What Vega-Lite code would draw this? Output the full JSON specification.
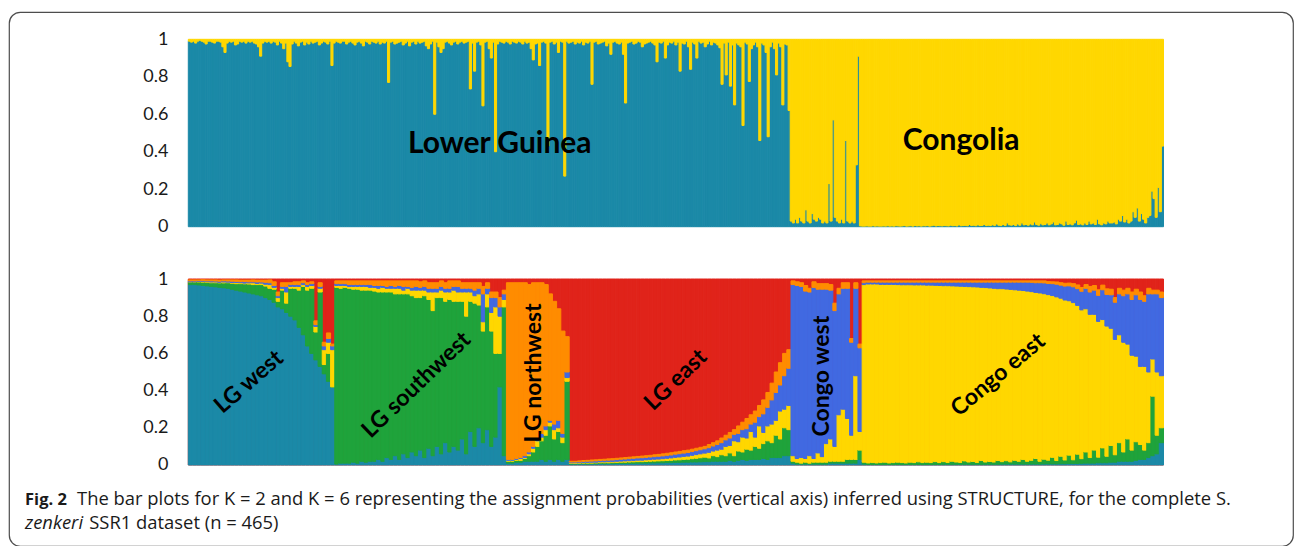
{
"$schema": "https://vega.github.io/schema/vega-lite/v6.json",
"width": 1284,
"height": 534,
"autosize": "none",
"padding": {"left": 9, "top": 12, "right": 3, "bottom": 0},
"background": "white",
"config": {"view": {"stroke": "#4d4d4d", "strokeWidth": 1.2, "cornerRadius": 11}},
"datasets": {
"k2": [
{"i":1,"b":0.99},{"i":2,"b":0.985},{"i":3,"b":0.99},{"i":4,"b":0.98},{"i":5,"b":0.99},{"i":6,"b":0.995},{"i":7,"b":0.99},{"i":8,"b":0.985},{"i":9,"b":0.975},{"i":10,"b":0.99},
{"i":11,"b":0.99},{"i":12,"b":0.985},{"i":13,"b":0.98},{"i":14,"b":0.99},{"i":15,"b":0.99},{"i":16,"b":0.985},{"i":17,"b":0.96},{"i":18,"b":0.93},{"i":19,"b":0.98},{"i":20,"b":0.99},
{"i":21,"b":0.985},{"i":22,"b":0.99},{"i":23,"b":0.97},{"i":24,"b":0.975},{"i":25,"b":0.99},{"i":26,"b":0.985},{"i":27,"b":0.99},{"i":28,"b":0.98},{"i":29,"b":0.99},{"i":30,"b":0.985},
{"i":31,"b":0.99},{"i":32,"b":0.98},{"i":33,"b":0.975},{"i":34,"b":0.96},{"i":35,"b":0.91},{"i":36,"b":0.98},{"i":37,"b":0.99},{"i":38,"b":0.985},{"i":39,"b":0.99},{"i":40,"b":0.98},
{"i":41,"b":0.99},{"i":42,"b":0.985},{"i":43,"b":0.97},{"i":44,"b":0.99},{"i":45,"b":0.98},{"i":46,"b":0.95},{"i":47,"b":0.98},{"i":48,"b":0.88},{"i":49,"b":0.855},{"i":50,"b":0.975},
{"i":51,"b":0.99},{"i":52,"b":0.98},{"i":53,"b":0.965},{"i":54,"b":0.985},{"i":55,"b":0.99},{"i":56,"b":0.97},{"i":57,"b":0.985},{"i":58,"b":0.975},{"i":59,"b":0.99},{"i":60,"b":0.98},
{"i":61,"b":0.985},{"i":62,"b":0.99},{"i":63,"b":0.97},{"i":64,"b":0.98},{"i":65,"b":0.99},{"i":66,"b":0.985},{"i":67,"b":0.975},{"i":68,"b":0.99},{"i":69,"b":0.86},{"i":70,"b":0.98},
{"i":71,"b":0.99},{"i":72,"b":0.985},{"i":73,"b":0.98},{"i":74,"b":0.99},{"i":75,"b":0.99},{"i":76,"b":0.975},{"i":77,"b":0.985},{"i":78,"b":0.99},{"i":79,"b":0.98},{"i":80,"b":0.97},
{"i":81,"b":0.985},{"i":82,"b":0.99},{"i":83,"b":0.98},{"i":84,"b":0.965},{"i":85,"b":0.99},{"i":86,"b":0.985},{"i":87,"b":0.975},{"i":88,"b":0.99},{"i":89,"b":0.985},{"i":90,"b":0.98},
{"i":91,"b":0.99},{"i":92,"b":0.975},{"i":93,"b":0.985},{"i":94,"b":0.98},{"i":95,"b":0.99},{"i":96,"b":0.77},{"i":97,"b":0.985},{"i":98,"b":0.99},{"i":99,"b":0.975},{"i":100,"b":0.98},
{"i":101,"b":0.985},{"i":102,"b":0.99},{"i":103,"b":0.97},{"i":104,"b":0.98},{"i":105,"b":0.99},{"i":106,"b":0.965},{"i":107,"b":0.985},{"i":108,"b":0.99},{"i":109,"b":0.975},{"i":110,"b":0.99},
{"i":111,"b":0.98},{"i":112,"b":0.985},{"i":113,"b":0.99},{"i":114,"b":0.965},{"i":115,"b":0.95},{"i":116,"b":0.975},{"i":117,"b":0.99},{"i":118,"b":0.6},{"i":119,"b":0.985},{"i":120,"b":0.96},
{"i":121,"b":0.93},{"i":122,"b":0.95},{"i":123,"b":0.985},{"i":124,"b":0.99},{"i":125,"b":0.98},{"i":126,"b":0.97},{"i":127,"b":0.985},{"i":128,"b":0.99},{"i":129,"b":0.975},{"i":130,"b":0.985},
{"i":131,"b":0.99},{"i":132,"b":0.98},{"i":133,"b":0.985},{"i":134,"b":0.99},{"i":135,"b":0.735},{"i":136,"b":0.98},{"i":137,"b":0.83},{"i":138,"b":0.985},{"i":139,"b":0.99},{"i":140,"b":0.97},
{"i":141,"b":0.645},{"i":142,"b":0.985},{"i":143,"b":0.99},{"i":144,"b":0.95},{"i":145,"b":0.9},{"i":146,"b":0.985},{"i":147,"b":0.4},{"i":148,"b":0.975},{"i":149,"b":0.99},{"i":150,"b":0.985},
{"i":151,"b":0.98},{"i":152,"b":0.99},{"i":153,"b":0.985},{"i":154,"b":0.975},{"i":155,"b":0.99},{"i":156,"b":0.985},{"i":157,"b":0.98},{"i":158,"b":0.99},{"i":159,"b":0.985},{"i":160,"b":0.975},
{"i":161,"b":0.99},{"i":162,"b":0.98},{"i":163,"b":0.985},{"i":164,"b":0.95},{"i":165,"b":0.89},{"i":166,"b":0.975},{"i":167,"b":0.98},{"i":168,"b":0.86},{"i":169,"b":0.985},{"i":170,"b":0.99},
{"i":171,"b":0.98},{"i":172,"b":0.43},{"i":173,"b":0.985},{"i":174,"b":0.99},{"i":175,"b":0.975},{"i":176,"b":0.985},{"i":177,"b":0.93},{"i":178,"b":0.99},{"i":179,"b":0.985},{"i":180,"b":0.27},
{"i":181,"b":0.99},{"i":182,"b":0.98},{"i":183,"b":0.985},{"i":184,"b":0.99},{"i":185,"b":0.975},{"i":186,"b":0.985},{"i":187,"b":0.98},{"i":188,"b":0.99},{"i":189,"b":0.97},{"i":190,"b":0.985},
{"i":191,"b":0.98},{"i":192,"b":0.99},{"i":193,"b":0.76},{"i":194,"b":0.985},{"i":195,"b":0.99},{"i":196,"b":0.975},{"i":197,"b":0.98},{"i":198,"b":0.985},{"i":199,"b":0.99},{"i":200,"b":0.965},
{"i":201,"b":0.98},{"i":202,"b":0.92},{"i":203,"b":0.985},{"i":204,"b":0.99},{"i":205,"b":0.98},{"i":206,"b":0.975},{"i":207,"b":0.985},{"i":208,"b":0.92},{"i":209,"b":0.66},{"i":210,"b":0.98},
{"i":211,"b":0.985},{"i":212,"b":0.99},{"i":213,"b":0.975},{"i":214,"b":0.98},{"i":215,"b":0.99},{"i":216,"b":0.985},{"i":217,"b":0.96},{"i":218,"b":0.975},{"i":219,"b":0.98},{"i":220,"b":0.985},
{"i":221,"b":0.99},{"i":222,"b":0.98},{"i":223,"b":0.97},{"i":224,"b":0.88},{"i":225,"b":0.985},{"i":226,"b":0.98},{"i":227,"b":0.99},{"i":228,"b":0.9},{"i":229,"b":0.97},{"i":230,"b":0.985},
{"i":231,"b":0.98},{"i":232,"b":0.99},{"i":233,"b":0.97},{"i":234,"b":0.985},{"i":235,"b":0.83},{"i":236,"b":0.98},{"i":237,"b":0.975},{"i":238,"b":0.99},{"i":239,"b":0.96},{"i":240,"b":0.84},
{"i":241,"b":0.985},{"i":242,"b":0.975},{"i":243,"b":0.9},{"i":244,"b":0.99},{"i":245,"b":0.98},{"i":246,"b":0.985},{"i":247,"b":0.96},{"i":248,"b":0.975},{"i":249,"b":0.99},{"i":250,"b":0.97},
{"i":251,"b":0.985},{"i":252,"b":0.98},{"i":253,"b":0.97},{"i":254,"b":0.955},{"i":255,"b":0.76},{"i":256,"b":0.98},{"i":257,"b":0.81},{"i":258,"b":0.985},{"i":259,"b":0.75},{"i":260,"b":0.97},
{"i":261,"b":0.65},{"i":262,"b":0.98},{"i":263,"b":0.97},{"i":264,"b":0.96},{"i":265,"b":0.54},{"i":266,"b":0.985},{"i":267,"b":0.975},{"i":268,"b":0.775},{"i":269,"b":0.95},{"i":270,"b":0.97},
{"i":271,"b":0.985},{"i":272,"b":0.96},{"i":273,"b":0.46},{"i":274,"b":0.98},{"i":275,"b":0.97},{"i":276,"b":0.93},{"i":277,"b":0.48},{"i":278,"b":0.96},{"i":279,"b":0.985},{"i":280,"b":0.95},
{"i":281,"b":0.81},{"i":282,"b":0.98},{"i":283,"b":0.96},{"i":284,"b":0.65},{"i":285,"b":0.975},{"i":286,"b":0.97},{"i":287,"b":0.62},
{"i":288,"b":0.03},{"i":289,"b":0.02},{"i":290,"b":0.04},{"i":291,"b":0.02},{"i":292,"b":0.05},{"i":293,"b":0.03},{"i":294,"b":0.02},{"i":295,"b":0.09},{"i":296,"b":0.03},{"i":297,"b":0.02},{"i":298,"b":0.07},{"i":299,"b":0.04},{"i":300,"b":0.03},
{"i":301,"b":0.05},{"i":302,"b":0.04},{"i":303,"b":0.02},{"i":304,"b":0.03},{"i":305,"b":0.02},{"i":306,"b":0.23},{"i":307,"b":0.03},{"i":308,"b":0.57},{"i":309,"b":0.05},{"i":310,"b":0.03},
{"i":311,"b":0.02},{"i":312,"b":0.04},{"i":313,"b":0.02},{"i":314,"b":0.46},{"i":315,"b":0.03},{"i":316,"b":0.02},{"i":317,"b":0.03},{"i":318,"b":0.02},{"i":319,"b":0.33},{"i":320,"b":0.91},
{"i":321,"b":0.004},{"i":322,"b":0.003},{"i":323,"b":0.003},{"i":324,"b":0.004},{"i":325,"b":0.003},{"i":326,"b":0.003},{"i":327,"b":0.005},{"i":328,"b":0.003},{"i":329,"b":0.004},{"i":330,"b":0.003},
{"i":331,"b":0.003},{"i":332,"b":0.004},{"i":333,"b":0.003},{"i":334,"b":0.005},{"i":335,"b":0.003},{"i":336,"b":0.004},{"i":337,"b":0.003},{"i":338,"b":0.005},{"i":339,"b":0.004},{"i":340,"b":0.003},
{"i":341,"b":0.004},{"i":342,"b":0.006},{"i":343,"b":0.003},{"i":344,"b":0.004},{"i":345,"b":0.005},{"i":346,"b":0.003},{"i":347,"b":0.006},{"i":348,"b":0.004},{"i":349,"b":0.005},{"i":350,"b":0.003},
{"i":351,"b":0.005},{"i":352,"b":0.004},{"i":353,"b":0.006},{"i":354,"b":0.003},{"i":355,"b":0.005},{"i":356,"b":0.008},{"i":357,"b":0.004},{"i":358,"b":0.006},{"i":359,"b":0.005},{"i":360,"b":0.004},
{"i":361,"b":0.006},{"i":362,"b":0.005},{"i":363,"b":0.004},{"i":364,"b":0.008},{"i":365,"b":0.005},{"i":366,"b":0.006},{"i":367,"b":0.004},{"i":368,"b":0.01},{"i":369,"b":0.005},{"i":370,"b":0.006},
{"i":371,"b":0.007},{"i":372,"b":0.005},{"i":373,"b":0.012},{"i":374,"b":0.006},{"i":375,"b":0.008},{"i":376,"b":0.005},{"i":377,"b":0.01},{"i":378,"b":0.006},{"i":379,"b":0.007},{"i":380,"b":0.012},
{"i":381,"b":0.006},{"i":382,"b":0.008},{"i":383,"b":0.006},{"i":384,"b":0.01},{"i":385,"b":0.007},{"i":386,"b":0.015},{"i":387,"b":0.008},{"i":388,"b":0.006},{"i":389,"b":0.012},{"i":390,"b":0.007},
{"i":391,"b":0.02},{"i":392,"b":0.01},{"i":393,"b":0.008},{"i":394,"b":0.012},{"i":395,"b":0.006},{"i":396,"b":0.015},{"i":397,"b":0.008},{"i":398,"b":0.02},{"i":399,"b":0.01},{"i":400,"b":0.012},
{"i":401,"b":0.008},{"i":402,"b":0.015},{"i":403,"b":0.01},{"i":404,"b":0.025},{"i":405,"b":0.012},{"i":406,"b":0.008},{"i":407,"b":0.018},{"i":408,"b":0.01},{"i":409,"b":0.012},{"i":410,"b":0.02},
{"i":411,"b":0.01},{"i":412,"b":0.015},{"i":413,"b":0.025},{"i":414,"b":0.01},{"i":415,"b":0.012},{"i":416,"b":0.02},{"i":417,"b":0.015},{"i":418,"b":0.008},{"i":419,"b":0.03},{"i":420,"b":0.012},
{"i":421,"b":0.015},{"i":422,"b":0.01},{"i":423,"b":0.02},{"i":424,"b":0.035},{"i":425,"b":0.012},{"i":426,"b":0.015},{"i":427,"b":0.01},{"i":428,"b":0.02},{"i":429,"b":0.012},{"i":430,"b":0.03},
{"i":431,"b":0.015},{"i":432,"b":0.02},{"i":433,"b":0.012},{"i":434,"b":0.04},{"i":435,"b":0.015},{"i":436,"b":0.01},{"i":437,"b":0.02},{"i":438,"b":0.015},{"i":439,"b":0.03},{"i":440,"b":0.02},
{"i":441,"b":0.02},{"i":442,"b":0.025},{"i":443,"b":0.015},{"i":444,"b":0.04},{"i":445,"b":0.03},{"i":446,"b":0.06},{"i":447,"b":0.025},{"i":448,"b":0.04},{"i":449,"b":0.02},{"i":450,"b":0.03},
{"i":451,"b":0.08},{"i":452,"b":0.05},{"i":453,"b":0.1},{"i":454,"b":0.03},{"i":455,"b":0.07},{"i":456,"b":0.04},{"i":457,"b":0.02},{"i":458,"b":0.05},{"i":459,"b":0.06},{"i":460,"b":0.19},
{"i":461,"b":0.15},{"i":462,"b":0.05},{"i":463,"b":0.21},{"i":464,"b":0.08},{"i":465,"b":0.43}
],
"k6": [
{"p":1,"A":0.97,"B":0.015,"C":0,"D":0.005,"E":0.005},
{"p":2,"A":0.97,"B":0.015,"C":0,"D":0.005,"E":0.005},
{"p":3,"A":0.968,"B":0.016,"C":0.003,"D":0.004,"E":0.004},
{"p":4,"A":0.965,"B":0.018,"C":0.003,"D":0.005,"E":0.005},
{"p":5,"A":0.963,"B":0.02,"C":0.003,"D":0.004,"E":0.005},
{"p":6,"A":0.96,"B":0.02,"C":0.004,"D":0.006,"E":0.005},
{"p":7,"A":0.958,"B":0.022,"C":0.004,"D":0.005,"E":0.006},
{"p":8,"A":0.955,"B":0.024,"C":0.003,"D":0.006,"E":0.006},
{"p":9,"A":0.953,"B":0.026,"C":0.005,"D":0.006,"E":0.005},
{"p":10,"A":0.95,"B":0.03,"C":0.003,"D":0.006,"E":0.006},
{"p":11,"A":0.945,"B":0.032,"C":0.004,"D":0.007,"E":0.007},
{"p":12,"A":0.94,"B":0.035,"C":0.006,"D":0.006,"E":0.008},
{"p":13,"A":0.935,"B":0.04,"C":0.005,"D":0.006,"E":0.008},
{"p":14,"A":0.93,"B":0.044,"C":0.004,"D":0.008,"E":0.008},
{"p":15,"A":0.925,"B":0.048,"C":0.006,"D":0.006,"E":0.009},
{"p":16,"A":0.92,"B":0.05,"C":0.01,"D":0.005,"E":0.01},
{"p":17,"A":0.915,"B":0.055,"C":0.006,"D":0.008,"E":0.01},
{"p":18,"A":0.91,"B":0.06,"C":0.008,"D":0.006,"E":0.01},
{"p":19,"A":0.9,"B":0.062,"C":0.01,"D":0.01,"E":0.012},
{"p":20,"A":0.89,"B":0.06,"C":0.02,"D":0.01,"E":0.015},
{"p":21,"A":0.875,"B":0.07,"C":0.01,"D":0.01,"E":0.02},
{"p":22,"A":0.85,"B":0.03,"C":0.02,"D":0.01,"E":0.02},
{"p":23,"A":0.84,"B":0.1,"C":0.01,"D":0.01,"E":0.02},
{"p":24,"A":0.82,"B":0.05,"C":0.06,"D":0.03,"E":0.02},
{"p":25,"A":0.8,"B":0.15,"C":0.01,"D":0.01,"E":0.01},
{"p":26,"A":0.78,"B":0.17,"C":0.01,"D":0.01,"E":0.015},
{"p":27,"A":0.74,"B":0.2,"C":0.02,"D":0.01,"E":0.015},
{"p":28,"A":0.7,"B":0.26,"C":0.01,"D":0.01,"E":0.01},
{"p":29,"A":0.64,"B":0.3,"C":0.02,"D":0.01,"E":0.01},
{"p":30,"A":0.6,"B":0.35,"C":0.015,"D":0.01,"E":0.01},
{"p":31,"A":0.565,"B":0.15,"C":0.03,"D":0.01,"E":0.02},
{"p":32,"A":0.53,"B":0.4,"C":0.02,"D":0.01,"E":0.02},
{"p":33,"A":0.49,"B":0.05,"C":0.08,"D":0.02,"E":0.02},
{"p":34,"A":0.45,"B":0.15,"C":0.06,"D":0.02,"E":0.03},
{"p":35,"A":0.42,"B":0,"C":0.2,"D":0.02,"E":0.01},
{"p":36,"A":0.005,"B":0.95,"C":0.01,"D":0.01,"E":0.015},
{"p":37,"A":0.01,"B":0.94,"C":0.015,"D":0.01,"E":0.015},
{"p":38,"A":0.01,"B":0.945,"C":0.01,"D":0.01,"E":0.015},
{"p":39,"A":0.01,"B":0.94,"C":0.01,"D":0.01,"E":0.02},
{"p":40,"A":0.015,"B":0.93,"C":0.015,"D":0.01,"E":0.02},
{"p":41,"A":0.01,"B":0.935,"C":0.015,"D":0.01,"E":0.02},
{"p":42,"A":0.02,"B":0.92,"C":0.02,"D":0.01,"E":0.02},
{"p":43,"A":0.015,"B":0.925,"C":0.02,"D":0.01,"E":0.02},
{"p":44,"A":0.02,"B":0.92,"C":0.015,"D":0.015,"E":0.02},
{"p":45,"A":0.02,"B":0.915,"C":0.02,"D":0.01,"E":0.025},
{"p":46,"A":0.03,"B":0.9,"C":0.02,"D":0.015,"E":0.025},
{"p":47,"A":0.02,"B":0.91,"C":0.025,"D":0.01,"E":0.025},
{"p":48,"A":0.04,"B":0.89,"C":0.02,"D":0.01,"E":0.03},
{"p":49,"A":0.03,"B":0.9,"C":0.02,"D":0.015,"E":0.025},
{"p":50,"A":0.05,"B":0.87,"C":0.03,"D":0.01,"E":0.03},
{"p":51,"A":0.03,"B":0.89,"C":0.03,"D":0.015,"E":0.025},
{"p":52,"A":0.06,"B":0.86,"C":0.02,"D":0.02,"E":0.03},
{"p":53,"A":0.04,"B":0.88,"C":0.03,"D":0.01,"E":0.03},
{"p":54,"A":0.07,"B":0.84,"C":0.03,"D":0.015,"E":0.035},
{"p":55,"A":0.05,"B":0.85,"C":0.04,"D":0.02,"E":0.03},
{"p":56,"A":0.08,"B":0.82,"C":0.04,"D":0.015,"E":0.03},
{"p":57,"A":0.04,"B":0.87,"C":0.03,"D":0.02,"E":0.03},
{"p":58,"A":0.09,"B":0.8,"C":0.04,"D":0.02,"E":0.03},
{"p":59,"A":0.05,"B":0.78,"C":0.1,"D":0.02,"E":0.03},
{"p":60,"A":0.1,"B":0.8,"C":0.03,"D":0.02,"E":0.03},
{"p":61,"A":0.06,"B":0.84,"C":0.04,"D":0.02,"E":0.03},
{"p":62,"A":0.12,"B":0.76,"C":0.05,"D":0.02,"E":0.03},
{"p":63,"A":0.07,"B":0.82,"C":0.04,"D":0.02,"E":0.04},
{"p":64,"A":0.1,"B":0.78,"C":0.06,"D":0.02,"E":0.03},
{"p":65,"A":0.08,"B":0.8,"C":0.05,"D":0.03,"E":0.03},
{"p":66,"A":0.14,"B":0.74,"C":0.05,"D":0.02,"E":0.03},
{"p":67,"A":0.06,"B":0.74,"C":0.13,"D":0.02,"E":0.03},
{"p":68,"A":0.18,"B":0.7,"C":0.05,"D":0.02,"E":0.03},
{"p":69,"A":0.1,"B":0.77,"C":0.04,"D":0.03,"E":0.04},
{"p":70,"A":0.2,"B":0.66,"C":0.06,"D":0.03,"E":0.03},
{"p":71,"A":0.12,"B":0.6,"C":0.05,"D":0.15,"E":0.04},
{"p":72,"A":0.19,"B":0.66,"C":0.07,"D":0.03,"E":0.03},
{"p":73,"A":0.1,"B":0.62,"C":0.1,"D":0.08,"E":0.03},
{"p":74,"A":0.15,"B":0.45,"C":0.25,"D":0.05,"E":0.03},
{"p":75,"A":0.42,"B":0.18,"C":0.2,"D":0.05,"E":0.05},
{"p":76,"A":0.05,"B":0.8,"C":0.04,"D":0.03,"E":0.02},
{"p":77,"A":0.01,"B":0.01,"C":0.005,"D":0.005,"E":0.95},
{"p":78,"A":0.01,"B":0.01,"C":0.005,"D":0.005,"E":0.95},
{"p":79,"A":0.015,"B":0.01,"C":0.005,"D":0.005,"E":0.945},
{"p":80,"A":0.015,"B":0.01,"C":0.01,"D":0.005,"E":0.94},
{"p":81,"A":0.02,"B":0.015,"C":0.005,"D":0.01,"E":0.93},
{"p":82,"A":0.02,"B":0.03,"C":0.01,"D":0.01,"E":0.9},
{"p":83,"A":0.02,"B":0.05,"C":0.02,"D":0.01,"E":0.88},
{"p":84,"A":0.02,"B":0.08,"C":0.03,"D":0.01,"E":0.84},
{"p":85,"A":0.03,"B":0.1,"C":0.02,"D":0.02,"E":0.81},
{"p":86,"A":0.02,"B":0.14,"C":0.03,"D":0.02,"E":0.76},
{"p":87,"A":0.03,"B":0.18,"C":0.02,"D":0.01,"E":0.68},
{"p":88,"A":0.02,"B":0.12,"C":0.05,"D":0.03,"E":0.66},
{"p":89,"A":0.03,"B":0.15,"C":0.02,"D":0.04,"E":0.6},
{"p":90,"A":0.02,"B":0.1,"C":0.03,"D":0.02,"E":0.55},
{"p":91,"A":0.03,"B":0.42,"C":0.02,"D":0.03,"E":0.19},
{"p":92,"A":0.005,"B":0.004,"C":0.003,"D":0.004,"E":0.004},
{"p":93,"A":0.005,"B":0.003,"C":0.004,"D":0.004,"E":0.004},
{"p":94,"A":0.005,"B":0.004,"C":0.003,"D":0.005,"E":0.005},
{"p":95,"A":0.006,"B":0.004,"C":0.004,"D":0.005,"E":0.005},
{"p":96,"A":0.005,"B":0.005,"C":0.004,"D":0.006,"E":0.005},
{"p":97,"A":0.006,"B":0.004,"C":0.005,"D":0.006,"E":0.006},
{"p":98,"A":0.006,"B":0.005,"C":0.004,"D":0.007,"E":0.006},
{"p":99,"A":0.007,"B":0.005,"C":0.005,"D":0.007,"E":0.006},
{"p":100,"A":0.006,"B":0.006,"C":0.005,"D":0.008,"E":0.006},
{"p":101,"A":0.007,"B":0.005,"C":0.006,"D":0.008,"E":0.007},
{"p":102,"A":0.007,"B":0.006,"C":0.005,"D":0.009,"E":0.007},
{"p":103,"A":0.008,"B":0.006,"C":0.006,"D":0.009,"E":0.007},
{"p":104,"A":0.008,"B":0.007,"C":0.006,"D":0.01,"E":0.007},
{"p":105,"A":0.008,"B":0.007,"C":0.007,"D":0.01,"E":0.008},
{"p":106,"A":0.009,"B":0.007,"C":0.007,"D":0.011,"E":0.008},
{"p":107,"A":0.009,"B":0.008,"C":0.007,"D":0.012,"E":0.008},
{"p":108,"A":0.01,"B":0.008,"C":0.008,"D":0.012,"E":0.008},
{"p":109,"A":0.01,"B":0.008,"C":0.008,"D":0.013,"E":0.009},
{"p":110,"A":0.01,"B":0.009,"C":0.009,"D":0.013,"E":0.009},
{"p":111,"A":0.011,"B":0.009,"C":0.009,"D":0.014,"E":0.009},
{"p":112,"A":0.011,"B":0.01,"C":0.01,"D":0.014,"E":0.01},
{"p":113,"A":0.012,"B":0.01,"C":0.01,"D":0.015,"E":0.01},
{"p":114,"A":0.012,"B":0.011,"C":0.011,"D":0.015,"E":0.011},
{"p":115,"A":0.013,"B":0.011,"C":0.012,"D":0.016,"E":0.011},
{"p":116,"A":0.013,"B":0.012,"C":0.013,"D":0.016,"E":0.012},
{"p":117,"A":0.014,"B":0.013,"C":0.014,"D":0.017,"E":0.012},
{"p":118,"A":0.014,"B":0.014,"C":0.015,"D":0.018,"E":0.012},
{"p":119,"A":0.015,"B":0.015,"C":0.016,"D":0.018,"E":0.013},
{"p":120,"A":0.015,"B":0.016,"C":0.017,"D":0.019,"E":0.013},
{"p":121,"A":0.016,"B":0.018,"C":0.018,"D":0.02,"E":0.013},
{"p":122,"A":0.016,"B":0.02,"C":0.02,"D":0.021,"E":0.013},
{"p":123,"A":0.017,"B":0.022,"C":0.021,"D":0.022,"E":0.013},
{"p":124,"A":0.018,"B":0.024,"C":0.022,"D":0.023,"E":0.013},
{"p":125,"A":0.018,"B":0.02,"C":0.03,"D":0.025,"E":0.017},
{"p":126,"A":0.02,"B":0.03,"C":0.025,"D":0.027,"E":0.018},
{"p":127,"A":0.02,"B":0.025,"C":0.035,"D":0.03,"E":0.02},
{"p":128,"A":0.02,"B":0.035,"C":0.03,"D":0.035,"E":0.025},
{"p":129,"A":0.02,"B":0.03,"C":0.05,"D":0.035,"E":0.025},
{"p":130,"A":0.025,"B":0.04,"C":0.04,"D":0.04,"E":0.03},
{"p":131,"A":0.02,"B":0.03,"C":0.08,"D":0.035,"E":0.025},
{"p":132,"A":0.025,"B":0.05,"C":0.05,"D":0.045,"E":0.04},
{"p":133,"A":0.03,"B":0.04,"C":0.08,"D":0.04,"E":0.04},
{"p":134,"A":0.025,"B":0.06,"C":0.06,"D":0.05,"E":0.055},
{"p":135,"A":0.03,"B":0.05,"C":0.1,"D":0.04,"E":0.05},
{"p":136,"A":0.03,"B":0.07,"C":0.05,"D":0.08,"E":0.06},
{"p":137,"A":0.03,"B":0.06,"C":0.12,"D":0.05,"E":0.06},
{"p":138,"A":0.035,"B":0.08,"C":0.06,"D":0.1,"E":0.075},
{"p":139,"A":0.03,"B":0.1,"C":0.08,"D":0.1,"E":0.08},
{"p":140,"A":0.04,"B":0.08,"C":0.1,"D":0.13,"E":0.09},
{"p":141,"A":0.04,"B":0.12,"C":0.08,"D":0.15,"E":0.11},
{"p":142,"A":0.04,"B":0.1,"C":0.15,"D":0.14,"E":0.12},
{"p":143,"A":0.05,"B":0.15,"C":0.1,"D":0.18,"E":0.12},
{"p":144,"A":0.05,"B":0.14,"C":0.13,"D":0.2,"E":0.1},
{"p":145,"A":0.01,"B":0.01,"C":0.03,"D":0.92,"E":0.02},
{"p":146,"A":0.005,"B":0.01,"C":0.02,"D":0.93,"E":0.02},
{"p":147,"A":0.005,"B":0.005,"C":0.03,"D":0.92,"E":0.02},
{"p":148,"A":0.005,"B":0.01,"C":0.02,"D":0.9,"E":0.03},
{"p":149,"A":0.005,"B":0.005,"C":0.04,"D":0.88,"E":0.02},
{"p":150,"A":0.005,"B":0.01,"C":0.02,"D":0.92,"E":0.03},
{"p":151,"A":0.005,"B":0.01,"C":0.05,"D":0.88,"E":0.03},
{"p":152,"A":0.005,"B":0.01,"C":0.03,"D":0.9,"E":0.03},
{"p":153,"A":0.005,"B":0.01,"C":0.1,"D":0.83,"E":0.03},
{"p":154,"A":0.01,"B":0.01,"C":0.12,"D":0.8,"E":0.03},
{"p":155,"A":0.01,"B":0.01,"C":0.08,"D":0.73,"E":0.04},
{"p":156,"A":0.01,"B":0.01,"C":0.25,"D":0.65,"E":0.03},
{"p":157,"A":0.01,"B":0.01,"C":0.28,"D":0.65,"E":0.03},
{"p":158,"A":0.01,"B":0.02,"C":0.22,"D":0.7,"E":0.03},
{"p":159,"A":0.01,"B":0.02,"C":0.13,"D":0.5,"E":0.02},
{"p":160,"A":0.01,"B":0.02,"C":0.45,"D":0.47,"E":0.03},
{"p":161,"A":0.03,"B":0.05,"C":0.1,"D":0.45,"E":0.02},
{"p":162,"A":0.005,"B":0.01,"C":0.955,"D":0.01,"E":0.01},
{"p":163,"A":0.003,"B":0.008,"C":0.962,"D":0.01,"E":0.007},
{"p":164,"A":0.003,"B":0.01,"C":0.96,"D":0.01,"E":0.007},
{"p":165,"A":0.003,"B":0.008,"C":0.962,"D":0.01,"E":0.007},
{"p":166,"A":0.003,"B":0.01,"C":0.958,"D":0.012,"E":0.007},
{"p":167,"A":0.003,"B":0.012,"C":0.956,"D":0.012,"E":0.007},
{"p":168,"A":0.003,"B":0.008,"C":0.96,"D":0.012,"E":0.007},
{"p":169,"A":0.003,"B":0.01,"C":0.958,"D":0.012,"E":0.007},
{"p":170,"A":0.003,"B":0.012,"C":0.955,"D":0.013,"E":0.007},
{"p":171,"A":0.003,"B":0.01,"C":0.956,"D":0.014,"E":0.007},
{"p":172,"A":0.003,"B":0.008,"C":0.958,"D":0.014,"E":0.007},
{"p":173,"A":0.003,"B":0.012,"C":0.954,"D":0.014,"E":0.007},
{"p":174,"A":0.003,"B":0.01,"C":0.955,"D":0.015,"E":0.007},
{"p":175,"A":0.003,"B":0.014,"C":0.951,"D":0.015,"E":0.007},
{"p":176,"A":0.003,"B":0.01,"C":0.955,"D":0.015,"E":0.007},
{"p":177,"A":0.003,"B":0.012,"C":0.952,"D":0.016,"E":0.007},
{"p":178,"A":0.003,"B":0.01,"C":0.954,"D":0.016,"E":0.007},
{"p":179,"A":0.003,"B":0.015,"C":0.948,"D":0.017,"E":0.007},
{"p":180,"A":0.003,"B":0.01,"C":0.952,"D":0.018,"E":0.007},
{"p":181,"A":0.004,"B":0.014,"C":0.946,"D":0.019,"E":0.007},
{"p":182,"A":0.004,"B":0.01,"C":0.95,"D":0.019,"E":0.007},
{"p":183,"A":0.004,"B":0.016,"C":0.943,"D":0.02,"E":0.007},
{"p":184,"A":0.004,"B":0.012,"C":0.946,"D":0.021,"E":0.007},
{"p":185,"A":0.004,"B":0.01,"C":0.947,"D":0.022,"E":0.007},
{"p":186,"A":0.004,"B":0.018,"C":0.938,"D":0.023,"E":0.007},
{"p":187,"A":0.004,"B":0.012,"C":0.943,"D":0.024,"E":0.007},
{"p":188,"A":0.004,"B":0.015,"C":0.939,"D":0.025,"E":0.007},
{"p":189,"A":0.004,"B":0.01,"C":0.943,"D":0.026,"E":0.007},
{"p":190,"A":0.004,"B":0.02,"C":0.931,"D":0.028,"E":0.007},
{"p":191,"A":0.004,"B":0.012,"C":0.938,"D":0.029,"E":0.007},
{"p":192,"A":0.004,"B":0.015,"C":0.933,"D":0.031,"E":0.007},
{"p":193,"A":0.004,"B":0.012,"C":0.934,"D":0.033,"E":0.007},
{"p":194,"A":0.004,"B":0.02,"C":0.924,"D":0.035,"E":0.007},
{"p":195,"A":0.005,"B":0.013,"C":0.93,"D":0.035,"E":0.007},
{"p":196,"A":0.005,"B":0.018,"C":0.923,"D":0.037,"E":0.007},
{"p":197,"A":0.005,"B":0.012,"C":0.927,"D":0.039,"E":0.007},
{"p":198,"A":0.005,"B":0.02,"C":0.917,"D":0.041,"E":0.007},
{"p":199,"A":0.005,"B":0.015,"C":0.92,"D":0.043,"E":0.007},
{"p":200,"A":0.005,"B":0.025,"C":0.908,"D":0.045,"E":0.007},
{"p":201,"A":0.005,"B":0.015,"C":0.915,"D":0.048,"E":0.007},
{"p":202,"A":0.005,"B":0.02,"C":0.907,"D":0.05,"E":0.008},
{"p":203,"A":0.005,"B":0.03,"C":0.893,"D":0.052,"E":0.01},
{"p":204,"A":0.005,"B":0.015,"C":0.905,"D":0.055,"E":0.01},
{"p":205,"A":0.006,"B":0.025,"C":0.89,"D":0.058,"E":0.011},
{"p":206,"A":0.006,"B":0.02,"C":0.89,"D":0.06,"E":0.01},
{"p":207,"A":0.006,"B":0.035,"C":0.87,"D":0.064,"E":0.01},
{"p":208,"A":0.006,"B":0.018,"C":0.88,"D":0.068,"E":0.012},
{"p":209,"A":0.007,"B":0.04,"C":0.85,"D":0.07,"E":0.013},
{"p":210,"A":0.007,"B":0.02,"C":0.86,"D":0.075,"E":0.015},
{"p":211,"A":0.008,"B":0.045,"C":0.83,"D":0.08,"E":0.015},
{"p":212,"A":0.008,"B":0.02,"C":0.845,"D":0.085,"E":0.017},
{"p":213,"A":0.008,"B":0.05,"C":0.8,"D":0.09,"E":0.02},
{"p":214,"A":0.009,"B":0.025,"C":0.8,"D":0.1,"E":0.02},
{"p":215,"A":0.01,"B":0.06,"C":0.77,"D":0.11,"E":0.02},
{"p":216,"A":0.01,"B":0.03,"C":0.77,"D":0.12,"E":0.03},
{"p":217,"A":0.01,"B":0.07,"C":0.73,"D":0.13,"E":0.025},
{"p":218,"A":0.012,"B":0.03,"C":0.73,"D":0.14,"E":0.03},
{"p":219,"A":0.012,"B":0.08,"C":0.69,"D":0.16,"E":0.025},
{"p":220,"A":0.012,"B":0.035,"C":0.7,"D":0.17,"E":0.03},
{"p":221,"A":0.015,"B":0.09,"C":0.63,"D":0.18,"E":0.03},
{"p":222,"A":0.015,"B":0.04,"C":0.62,"D":0.2,"E":0.025},
{"p":223,"A":0.02,"B":0.1,"C":0.58,"D":0.22,"E":0.03},
{"p":224,"A":0.02,"B":0.05,"C":0.59,"D":0.25,"E":0.03},
{"p":225,"A":0.02,"B":0.12,"C":0.51,"D":0.27,"E":0.03},
{"p":226,"A":0.02,"B":0.06,"C":0.51,"D":0.3,"E":0.04},
{"p":227,"A":0.025,"B":0.1,"C":0.46,"D":0.33,"E":0.03},
{"p":228,"A":0.03,"B":0.08,"C":0.42,"D":0.36,"E":0.04},
{"p":229,"A":0.03,"B":0.05,"C":0.45,"D":0.35,"E":0.03},
{"p":230,"A":0.04,"B":0.08,"C":0.38,"D":0.42,"E":0.03},
{"p":231,"A":0.05,"B":0.32,"C":0.2,"D":0.35,"E":0.02},
{"p":232,"A":0.06,"B":0.1,"C":0.34,"D":0.42,"E":0.02},
{"p":233,"A":0.12,"B":0.08,"C":0.28,"D":0.42,"E":0.03}
],
"ticks": [{"v": 0}, {"v": 0.2}, {"v": 0.4}, {"v": 0.6}, {"v": 0.8}, {"v": 1}]
},
"layer": [
{
"data": {"name": "k2"},
"layer": [
{"mark": {"type": "bar", "color": "#1B89A7", "stroke": "#1B89A7", "strokeWidth": 1},
 "encoding": {
  "x": {"field": "i", "type": "ordinal", "scale": {"type": "band", "range": [179.3, 1154.5], "paddingInner": 0, "paddingOuter": 0}, "axis": null},
  "y": {"field": "b", "type": "quantitative", "scale": {"domain": [-1.7038, 1.1457], "nice": false, "zero": false}, "axis": null},
  "y2": {"datum": 0}}},
{"mark": {"type": "bar", "color": "#FFD700", "stroke": "#FFD700", "strokeWidth": 1},
 "encoding": {
  "x": {"field": "i", "type": "ordinal", "axis": null},
  "y": {"field": "b", "type": "quantitative", "axis": null},
  "y2": {"datum": 1}}},
{"transform": [{"filter": "datum.i == 149"}],
 "mark": {"type": "text", "font": "Lato", "fontWeight": "bold", "fontSize": 30, "color": "#000000", "align": "center", "baseline": "middle"},
 "encoding": {"x": {"field": "i", "type": "ordinal", "axis": null}, "y": {"datum": 0.44, "type": "quantitative", "axis": null}, "text": {"value": "Lower Guinea"}}},
{"transform": [{"filter": "datum.i == 369"}],
 "mark": {"type": "text", "font": "Lato", "fontWeight": "bold", "fontSize": 30, "color": "#000000", "align": "center", "baseline": "middle"},
 "encoding": {"x": {"field": "i", "type": "ordinal", "axis": null}, "y": {"datum": 0.457, "type": "quantitative", "axis": null}, "text": {"value": "Congolia"}}}
]
},
{
"data": {"name": "k6"},
"layer": [
{"mark": {"type": "bar", "color": "#E0231A", "stroke": "#E0231A", "strokeWidth": 1},
 "encoding": {
  "x": {"field": "p", "type": "ordinal", "scale": {"type": "band", "range": [179.3, 1154.5], "paddingInner": 0, "paddingOuter": 0}, "axis": null},
  "y": {"datum": 1, "type": "quantitative", "scale": {"domain": [-0.4355, 2.4355], "nice": false, "zero": false}, "axis": null},
  "y2": {"datum": 0}}},
{"transform": [{"fold": ["A", "B", "C", "D", "E"], "as": ["k", "v"]}],
 "mark": {"type": "bar", "strokeWidth": 1},
 "encoding": {
  "x": {"field": "p", "type": "ordinal", "axis": null},
  "y": {"field": "v", "type": "quantitative", "stack": "zero", "axis": null},
  "color": {"field": "k", "type": "nominal", "scale": {"domain": ["A", "B", "C", "D", "E"], "range": ["#1B89A7", "#1FA33B", "#FFD700", "#4169E1", "#FF8C00"]}, "legend": null},
  "stroke": {"field": "k", "type": "nominal", "scale": {"domain": ["A", "B", "C", "D", "E"], "range": ["#1B89A7", "#1FA33B", "#FFD700", "#4169E1", "#FF8C00"]}, "legend": null},
  "order": {"field": "k", "type": "ordinal", "sort": "ascending"}}},
{"transform": [{"filter": "datum.p == 15"}],
 "mark": {"type": "text", "font": "Lato", "fontWeight": "bold", "fontSize": 23, "color": "#000000", "align": "center", "baseline": "middle", "angle": 319},
 "encoding": {"x": {"field": "p", "type": "ordinal", "axis": null}, "y": {"datum": 0.446, "type": "quantitative", "axis": null}, "text": {"value": "LG west"}}},
{"transform": [{"filter": "datum.p == 55"}],
 "mark": {"type": "text", "font": "Lato", "fontWeight": "bold", "fontSize": 23, "color": "#000000", "align": "center", "baseline": "middle", "angle": 316},
 "encoding": {"x": {"field": "p", "type": "ordinal", "axis": null}, "y": {"datum": 0.43, "type": "quantitative", "axis": null}, "text": {"value": "LG southwest"}}},
{"transform": [{"filter": "datum.p == 83"}],
 "mark": {"type": "text", "font": "Lato", "fontWeight": "bold", "fontSize": 23, "color": "#000000", "align": "center", "baseline": "middle", "angle": 270},
 "encoding": {"x": {"field": "p", "type": "ordinal", "axis": null}, "y": {"datum": 0.495, "type": "quantitative", "axis": null}, "text": {"value": "LG northwest"}}},
{"transform": [{"filter": "datum.p == 117"}],
 "mark": {"type": "text", "font": "Lato", "fontWeight": "bold", "fontSize": 23, "color": "#000000", "align": "center", "baseline": "middle", "angle": 316},
 "encoding": {"x": {"field": "p", "type": "ordinal", "axis": null}, "y": {"datum": 0.457, "type": "quantitative", "axis": null}, "text": {"value": "LG east"}}},
{"transform": [{"filter": "datum.p == 152"}],
 "mark": {"type": "text", "font": "Lato", "fontWeight": "bold", "fontSize": 23, "color": "#000000", "align": "center", "baseline": "middle", "angle": 270},
 "encoding": {"x": {"field": "p", "type": "ordinal", "axis": null}, "y": {"datum": 0.478, "type": "quantitative", "axis": null}, "text": {"value": "Congo west"}}},
{"transform": [{"filter": "datum.p == 194"}],
 "mark": {"type": "text", "font": "Lato", "fontWeight": "bold", "fontSize": 23, "color": "#000000", "align": "center", "baseline": "middle", "angle": 320},
 "encoding": {"x": {"field": "p", "type": "ordinal", "axis": null}, "y": {"datum": 0.484, "type": "quantitative", "axis": null}, "text": {"value": "Congo east"}}}
]
},
{"data": {"name": "ticks"},
 "mark": {"type": "rule", "strokeOpacity": 0},
 "encoding": {"y": {"field": "v", "type": "quantitative", "scale": {"domain": [-1.7038, 1.1457], "nice": false, "zero": false},
   "axis": {"orient": "left", "offset": -159, "values": [0, 0.2, 0.4, 0.6, 0.8, 1], "format": "~g", "title": null, "domain": false, "ticks": false, "tickSize": 0, "grid": false, "labelPadding": 0, "labelFont": "Lato", "labelFontSize": 18, "labelColor": "#1a1a1a"}}}},
{"data": {"name": "ticks"},
 "mark": {"type": "rule", "strokeOpacity": 0},
 "encoding": {"y": {"field": "v", "type": "quantitative", "scale": {"domain": [-0.4355, 2.4355], "nice": false, "zero": false},
   "axis": {"orient": "left", "offset": -159, "values": [0, 0.2, 0.4, 0.6, 0.8, 1], "format": "~g", "title": null, "domain": false, "ticks": false, "tickSize": 0, "grid": false, "labelPadding": 0, "labelFont": "Lato", "labelFontSize": 18, "labelColor": "#1a1a1a"}}}},
{
"data": {"values": [{}]},
"layer": [
{"mark": {"type": "text", "font": "Open Sans", "fontWeight": "bold", "fontSize": 16.5, "color": "#1a1a1a", "align": "left", "baseline": "alphabetic"},
 "encoding": {"x": {"datum": 0.0125, "type": "quantitative", "scale": {"domain": [0, 1], "nice": false, "zero": false}, "axis": null},
              "y": {"datum": 0.0768, "type": "quantitative", "scale": {"domain": [0, 1], "nice": false, "zero": false}, "axis": null},
              "text": {"value": "Fig. 2"}}},
{"mark": {"type": "text", "font": "Open Sans", "fontSize": 18.4, "color": "#1a1a1a", "align": "left", "baseline": "alphabetic"},
 "encoding": {"x": {"datum": 0.053, "type": "quantitative", "axis": null},
              "y": {"datum": 0.0768, "type": "quantitative", "axis": null},
              "text": {"value": "The bar plots for K = 2 and K = 6 representing the assignment probabilities (vertical axis) inferred using STRUCTURE, for the complete S."}}},
{"mark": {"type": "text", "font": "Open Sans", "fontStyle": "italic", "fontSize": 18.4, "color": "#1a1a1a", "align": "left", "baseline": "alphabetic"},
 "encoding": {"x": {"datum": 0.0125, "type": "quantitative", "axis": null},
              "y": {"datum": 0.0318, "type": "quantitative", "axis": null},
              "text": {"value": "zenkeri"}}},
{"mark": {"type": "text", "font": "Open Sans", "fontSize": 18.4, "color": "#1a1a1a", "align": "left", "baseline": "alphabetic"},
 "encoding": {"x": {"datum": 0.0625, "type": "quantitative", "axis": null},
              "y": {"datum": 0.0318, "type": "quantitative", "axis": null},
              "text": {"value": "SSR1 dataset (n = 465)"}}}
]
}
],
"resolve": {"scale": {"x": "independent", "y": "independent", "color": "independent", "stroke": "independent"}, "axis": {"x": "independent", "y": "independent"}}
}
